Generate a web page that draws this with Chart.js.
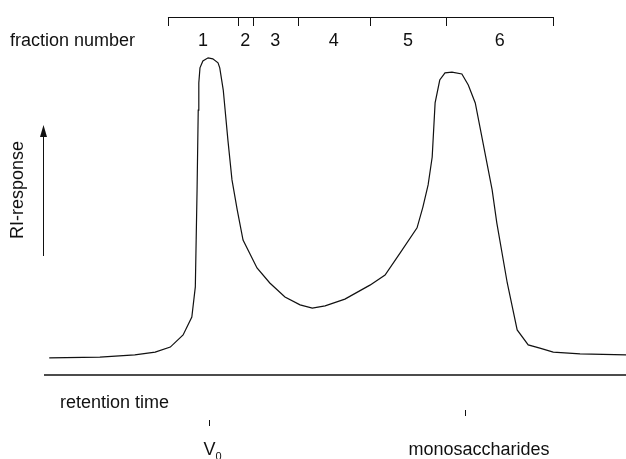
<!DOCTYPE html>
<html>
<head>
<meta charset="utf-8">
<script src="https://cdn.jsdelivr.net/npm/chart.js@4"></script>
<style>
  body { margin: 0; background: #fff; }
  canvas { display: block; }
</style>
</head>
<body>
<canvas id="chromatogram" width="626" height="459"></canvas>
<script>
//#region data
// retention time (arbitrary units, 0-100)
const retentionTime = [
  0.9, 9.6, 15.6, 19.1, 21.7, 23.9, 25.4, 26.0, 26.3, 26.5, 26.6, 26.8, 27.3,
  28.2, 29.0, 29.9, 30.2, 30.8, 31.6, 32.3, 33.2, 34.2, 36.6, 38.8, 41.4, 44.0,
  46.1, 48.3, 51.7, 56.0, 58.6, 61.2, 64.1, 65.1, 66.0, 66.7, 67.2, 68.0, 68.9,
  70.1, 71.8, 72.9, 74.1, 74.9, 77.0, 77.8, 79.6, 81.3, 83.2, 85.2, 87.5, 92.1,
  100,
];
// RI response (arbitrary units, 0-100)
const riResponse = [
  4.8, 5.0, 5.6, 6.4, 7.8, 11.2, 16.2, 24.6, 51.7, 74.0, 81.6, 85.8, 87.7,
  88.6, 88.3, 87.2, 85.8, 79.6, 65.6, 54.5, 46.1, 37.7, 29.9, 25.7, 21.8, 19.6,
  18.7, 19.3, 21.2, 25.1, 27.9, 34.1, 41.1, 46.9, 53.1, 60.9, 76.0, 82.4, 84.4,
  84.6, 84.1, 81.0, 76.0, 69.3, 51.7, 42.5, 25.7, 12.6, 8.4, 7.5, 6.4, 5.9,
  5.6,
];
// fraction boundaries on the retention time axis
const fractionBounds = [21.3, 33.3, 35.9, 43.6, 56.0, 69.1, 87.5];
const fractionLabels = ["1", "2", "3", "4", "5", "6"];
// markers below the time axis
const voidVolumeTime = 28.4;
const monosaccharideTime = 72.3;
//#endregion

const FONT = '"Liberation Sans", Arial, sans-serif';

// draws the fraction bar, axis line, arrow and all the labels
const annotations = {
  id: "annotations",
  afterDraw(chart) {
    const ctx = chart.ctx;
    const x = chart.scales.x;
    const area = chart.chartArea;

    ctx.save();
    ctx.strokeStyle = "#111";
    ctx.fillStyle = "#111";
    ctx.font = "18px " + FONT;

    // fraction bar
    const barY = area.top;
    ctx.lineWidth = 1;
    ctx.beginPath();
    ctx.moveTo(x.getPixelForValue(fractionBounds[0]), barY + 0.5);
    ctx.lineTo(x.getPixelForValue(fractionBounds[fractionBounds.length - 1]), barY + 0.5);
    fractionBounds.forEach((b) => {
      const px = Math.round(x.getPixelForValue(b)) + 0.5;
      ctx.moveTo(px, barY);
      ctx.lineTo(px, barY + 9);
    });
    ctx.stroke();

    // fraction numbers
    ctx.textAlign = "center";
    ctx.textBaseline = "middle";
    fractionLabels.forEach((lbl, i) => {
      const mid = (fractionBounds[i] + fractionBounds[i + 1]) / 2;
      ctx.fillText(lbl, x.getPixelForValue(mid), 41);
    });
    ctx.textAlign = "left";
    ctx.fillText("fraction number", 10, 41);

    // time axis line
    ctx.lineWidth = 1.5;
    ctx.beginPath();
    ctx.moveTo(area.left, area.bottom);
    ctx.lineTo(area.right, area.bottom);
    ctx.stroke();

    ctx.fillText("retention time", 60, 403);

    // V0 marker
    const v0 = Math.round(x.getPixelForValue(voidVolumeTime)) + 0.5;
    ctx.lineWidth = 1;
    ctx.beginPath();
    ctx.moveTo(v0, 420);
    ctx.lineTo(v0, 426);
    ctx.stroke();
    ctx.textAlign = "center";
    ctx.fillText("V", v0, 450);
    ctx.font = "11px " + FONT;
    ctx.fillText("0", v0 + 9, 457);
    ctx.font = "18px " + FONT;

    // monosaccharides marker
    const ms = Math.round(x.getPixelForValue(monosaccharideTime)) + 0.5;
    ctx.beginPath();
    ctx.moveTo(ms, 410);
    ctx.lineTo(ms, 416);
    ctx.stroke();
    ctx.textAlign = "left";
    ctx.fillText("monosaccharides", ms - 57, 450);

    // RI-response arrow
    ctx.lineWidth = 1;
    ctx.beginPath();
    ctx.moveTo(43.5, 256);
    ctx.lineTo(43.5, 134);
    ctx.stroke();
    ctx.beginPath();
    ctx.moveTo(43.5, 125);
    ctx.lineTo(40, 137);
    ctx.lineTo(47, 137);
    ctx.closePath();
    ctx.fill();

    ctx.translate(18, 190);
    ctx.rotate(-Math.PI / 2);
    ctx.textAlign = "center";
    ctx.fillText("RI-response", 0, 0);

    ctx.restore();
  },
};

new Chart(document.getElementById("chromatogram"), {
  type: "line",
  data: {
    datasets: [
      {
        data: retentionTime.map((t, i) => ({ x: t, y: riResponse[i] })),
        borderColor: "#111",
        borderWidth: 1.2,
        pointRadius: 0,
        tension: 0,
        fill: false,
      },
    ],
  },
  options: {
    responsive: false,
    animation: false,
    layout: { padding: { left: 44, right: 0, top: 17, bottom: 84 } },
    plugins: {
      legend: { display: false },
      tooltip: { enabled: false },
    },
    scales: {
      x: { type: "linear", min: 0, max: 100, display: false },
      y: { min: 0, max: 100, display: false },
    },
  },
  plugins: [annotations],
});
</script>
</body>
</html>
